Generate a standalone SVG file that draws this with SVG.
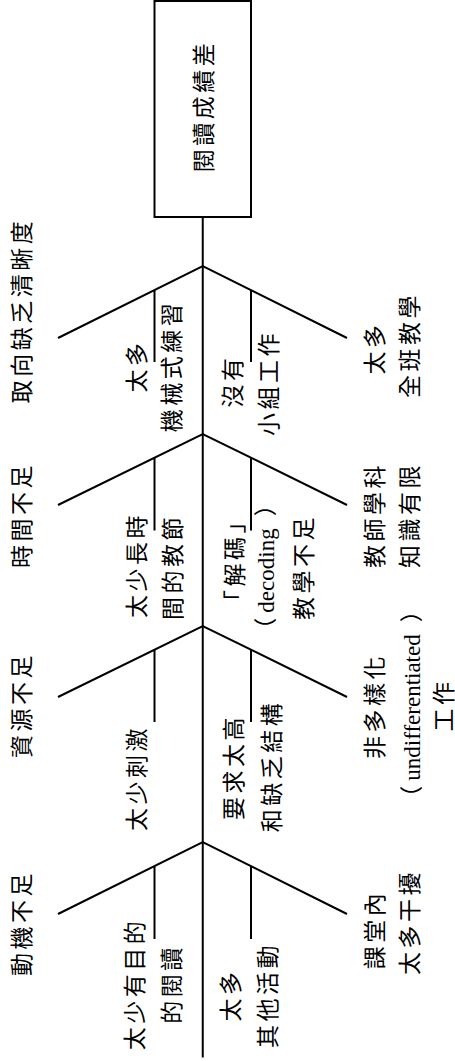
<svg xmlns="http://www.w3.org/2000/svg" width="455" height="1061" viewBox="0 0 455 1061">
<style>
.ln{stroke:#000;stroke-width:2;fill:none;stroke-linecap:butt}
.t{font-family:"Liberation Serif","Noto Sans CJK TC",serif;font-size:23px;letter-spacing:3.5px;text-anchor:middle;dominant-baseline:central;fill:#000}
.lat{letter-spacing:0}
</style>
<rect width="455" height="1061" fill="#fff"/>
<g id="connectors" class="ln">
<path d="M202.75 217V1057.5"/>
<path d="M58 338L202.75 266L347 338"/>
<path d="M58 505L202.75 434L347 505"/>
<path d="M58 697L202.75 626L347 697"/>
<path d="M58 914L202.75 842L347 914"/>
<path d="M154.5 290V362M251 290V362"/>
<path d="M154.5 458V530.5M251 458V530.5"/>
<path d="M154.5 650V722M251 650V722"/>
<path d="M154.5 866V939M251 866V939"/>
</g>
<g id="effect">
<rect x="154.5" y="1" width="96.5" height="216" fill="#fff" stroke="#000" stroke-width="2"/>
<text class="t" transform="translate(204.5,106) rotate(-90)">閱讀成績差</text>
</g>
<g id="cat-direction"><text class="t" transform="translate(22.5,310.5) rotate(-90)">取向缺乏清晰度</text></g>
<g id="cat-time"><text class="t" transform="translate(22.5,515) rotate(-90)">時間不足</text></g>
<g id="cat-resource"><text class="t" transform="translate(22.5,705) rotate(-90)">資源不足</text></g>
<g id="cat-motivation"><text class="t" transform="translate(22.5,923) rotate(-90)">動機不足</text></g>

<g id="c-drill">
<text class="t" transform="translate(137,366) rotate(-90)">太多</text>
<text class="t" transform="translate(172,366) rotate(-90)">機械式練習</text>
</g>
<g id="c-longlesson">
<text class="t" transform="translate(137,565) rotate(-90)">太少長時</text>
<text class="t" transform="translate(173,567) rotate(-90)">間的教節</text>
</g>
<g id="c-stimulus"><text class="t" transform="translate(137,778) rotate(-90)">太少刺激</text></g>
<g id="c-purpose">
<text class="t" transform="translate(135,984) rotate(-90)">太少有目的</text>
<text class="t" transform="translate(172,984) rotate(-90)">的閱讀</text>
</g>

<g id="c-group">
<text class="t" transform="translate(233,381) rotate(-90)">沒有</text>
<text class="t" transform="translate(269,383) rotate(-90)">小組工作</text>
</g>
<g id="c-decoding">
<text class="t" transform="translate(235,560) rotate(-90)">「解碼」</text>
<text class="t lat" transform="translate(266,567) rotate(-90)">（<tspan dx="5">decoding</tspan><tspan dx="12">）</tspan></text>
<text class="t" transform="translate(304,567) rotate(-90)">教學不足</text>
</g>
<g id="c-demand">
<text class="t" transform="translate(234,767) rotate(-90)">要求太高</text>
<text class="t" transform="translate(272,766) rotate(-90)">和缺乏結構</text>
</g>
<g id="c-activities">
<text class="t" transform="translate(231,995) rotate(-90)">太多</text>
<text class="t" transform="translate(268,995) rotate(-90)">其他活動</text>
</g>

<g id="c-wholeclass">
<text class="t" transform="translate(375,348) rotate(-90)">太多</text>
<text class="t" transform="translate(410,345) rotate(-90)">全班教學</text>
</g>
<g id="c-knowledge">
<text class="t" transform="translate(375,515) rotate(-90)">教師學科</text>
<text class="t" transform="translate(410,515) rotate(-90)">知識有限</text>
</g>
<g id="c-undiff">
<text class="t" transform="translate(375,706) rotate(-90)">非多樣化</text>
<text class="t lat" transform="translate(412,704) rotate(-90)">（<tspan dx="5">undifferentiated</tspan><tspan dx="12">）</tspan></text>
<text class="t" transform="translate(444,705) rotate(-90)">工作</text>
</g>
<g id="c-distraction">
<text class="t" transform="translate(375,929.5) rotate(-90)">課堂內</text>
<text class="t" transform="translate(410,922) rotate(-90)">太多干擾</text>
</g>
</svg>
